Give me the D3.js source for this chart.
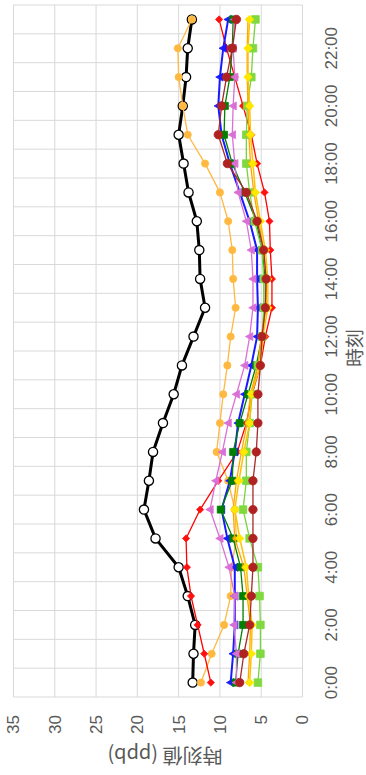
<!DOCTYPE html>
<html><head><meta charset="utf-8">
<script src="https://cdn.jsdelivr.net/npm/d3@7/dist/d3.min.js"></script>
<style>body{margin:0;background:#fff;}svg{display:block;}</style>
</head><body>
<script>
const hours = ["0:00","1:00","2:00","3:00","4:00","5:00","6:00","7:00","8:00","9:00","10:00","11:00","12:00","13:00","14:00","15:00","16:00","17:00","18:00","19:00","20:00","21:00","22:00","23:00"];
const valueTicks = [0,5,10,15,20,25,30,35];
const sBlack    = [13.3,13.2,13.0,13.9,15.0,17.8,19.2,18.6,18.1,16.9,15.6,14.6,13.2,11.8,12.4,12.5,12.8,13.8,14.4,15.0,14.5,14.1,13.9,13.4];
const sLtOrange = [12.3,11.0,9.5,8.7,8.6,8.0,8.2,9.0,10.4,10.0,9.6,9.1,8.7,8.1,8.4,8.5,9.0,10.0,11.8,13.9,14.5,15.0,15.1,13.4];
const sRed      = [11.1,11.9,12.7,13.5,14.0,14.1,12.4,10.2,7.9,6.8,6.1,5.1,4.5,3.7,3.7,3.9,4.0,4.6,5.5,6.2,7.2,8.2,9.2,10.1];
const sBlue     = [8.7,8.4,8.2,8.2,8.2,9.1,9.8,8.8,8.2,7.8,7.0,6.2,5.5,5.4,5.5,5.5,6.4,7.6,8.8,9.8,10.2,10.0,9.6,9.0];
const sDkGreen  = [8.1,7.8,7.2,7.2,7.5,8.4,9.9,8.5,8.4,7.6,6.6,5.6,4.9,4.5,4.5,4.9,5.6,7.0,8.5,9.5,9.4,8.8,8.5,8.4];
const sOrchid   = [8.0,8.0,8.3,8.2,8.9,10.0,11.2,10.5,9.7,9.0,8.0,7.0,6.4,6.0,6.0,6.2,6.8,7.8,8.2,8.5,8.4,8.2,8.4,8.2];
const sLtGreen  = [5.4,5.1,5.1,5.2,5.4,6.4,7.2,6.8,6.8,6.4,6.1,5.4,4.9,4.7,4.7,4.9,5.8,6.4,6.8,6.8,6.7,6.2,6.0,5.7];
const sOrange   = [6.6,6.4,6.3,6.7,7.1,8.2,8.4,8.0,7.4,6.7,6.3,5.4,5.0,4.4,4.4,4.7,5.3,5.9,6.3,6.5,6.6,6.7,6.7,6.6];
const sYellow   = [6.4,6.2,6.1,6.5,6.8,7.6,8.2,7.7,7.1,6.4,6.2,5.1,4.8,4.2,4.2,4.5,5.1,5.7,6.0,6.3,6.4,6.6,6.6,6.4];
const sBrown    = [7.6,7.1,6.4,6.2,6.0,6.0,6.0,6.0,5.6,5.4,5.4,5.1,4.9,4.5,4.4,4.7,5.5,6.8,9.1,10.2,9.8,9.2,8.5,8.0];

const series = [
  {v:sBlack,    line:"#000000", lw:3,   mk:"circle",  sz:4.6, fill:"#ffffff", stroke:"#000000"},
  {v:sLtOrange, line:"#FFB940", lw:1.3, mk:"circle",  sz:3.6, fill:"#FFB940", stroke:"#FFB940"},
  {v:sRed,      line:"#FF0000", lw:1.3, mk:"diamond", sz:3.6, fill:"#FF1010", stroke:"#FF1010"},
  {v:sBlue,     line:"#1A1AFF", lw:2,   mk:"triangle",sz:4.2, fill:"#1A1AFF", stroke:"#1A1AFF"},
  {v:sDkGreen,  line:"#008000", lw:1.3, mk:"square",  sz:3.5, fill:"#008000", stroke:"#008000"},
  {v:sOrchid,   line:"#DA70D6", lw:1.3, mk:"triangle",sz:4.2, fill:"#DA70D6", stroke:"#DA70D6"},
  {v:sLtGreen,  line:"#77D43C", lw:1.3, mk:"square",  sz:3.8, fill:"#7FD93F", stroke:"#7FD93F"},
  {v:sOrange,   line:"#FFA500", lw:1.3, mk:"circle",  sz:2.0, fill:"#FFA500", stroke:"#FFA500"},
  {v:sYellow,   line:"#FFC000", lw:1.5, mk:"diamond", sz:4.2, fill:"#FFE800", stroke:"#FFE800"},
  {v:sBrown,    line:"#A52A2A", lw:1.3, mk:"circle",  sz:4.2, fill:"#B02222", stroke:"#B02222"}
];

function markerPath(type, s){
  if(type==="circle") return `M${s},0A${s},${s} 0 1,1 ${-s},0A${s},${s} 0 1,1 ${s},0Z`;
  if(type==="square") return `M${-s},${-s}H${s}V${s}H${-s}Z`;
  if(type==="diamond") return `M0,${-s}L${s},0L0,${s}L${-s},0Z`;
  if(type==="triangle") return `M0,${-s}L${s*0.95},${s*0.75}L${-s*0.95},${s*0.75}Z`;
}

const W = 366, H = 775;
const svg = d3.select("body").append("svg").attr("width",W).attr("height",H);
// chart is drawn in a 775x366 frame and rotated -90deg
const g = svg.append("g").attr("transform",`translate(0,${H}) rotate(-90)`);

const x = d3.scaleBand().domain(hours).range([78,770]).paddingInner(0).paddingOuter(0);
const y = d3.scaleLinear().domain([0,35]).range([302.5,13.5]);
const grid = "#d9d9d9";
const txt = "#595959";

// value gridlines
g.append("g").selectAll("line").data(valueTicks).join("line")
  .attr("x1",78).attr("x2",770).attr("y1",d=>y(d)).attr("y2",d=>y(d))
  .attr("stroke",grid).attr("stroke-width",1);
// category gridlines (between categories)
const bounds = hours.map(h=>x(h)).concat([x(hours[hours.length-1])+x.bandwidth()]);
g.append("g").selectAll("line").data(bounds).join("line")
  .attr("x1",d=>d).attr("x2",d=>d).attr("y1",y(35)).attr("y2",y(0))
  .attr("stroke",grid).attr("stroke-width",1);

// category labels
g.append("g").selectAll("text").data(hours.filter((h,i)=>i%2===0)).join("text")
  .attr("x",d=>x(d)+x.bandwidth()/2).attr("y",337)
  .attr("text-anchor","middle").attr("fill",txt)
  .style("font-family","'Liberation Sans',Arial,sans-serif").style("font-size","17px")
  .text(d=>d);
// value labels
g.append("g").selectAll("text").data(valueTicks).join("text")
  .attr("x",60).attr("y",d=>y(d)).attr("dy","0.35em")
  .attr("text-anchor","end").attr("fill",txt)
  .style("font-family","'Liberation Sans',Arial,sans-serif").style("font-size","17px")
  .text(d=>d);

// axis titles
g.append("text").attr("transform",`translate(20,165) rotate(-90)`)
  .attr("text-anchor","middle").attr("dy","0.35em").attr("fill",txt)
  .style("font-family","'Noto Sans CJK JP','Noto Sans',sans-serif").style("font-size","20px")
  .text("時刻値 (ppb)");
g.append("text").attr("x",427).attr("y",362)
  .attr("text-anchor","middle").attr("fill",txt)
  .style("font-family","'Noto Sans CJK JP','Noto Sans',sans-serif").style("font-size","19px")
  .text("時刻");

const line = d3.line().x((d,i)=>x(hours[i])+x.bandwidth()/2).y(d=>y(d));
series.forEach(s=>{
  const sg = g.append("g");
  sg.append("path").datum(s.v).attr("d",line).attr("fill","none")
    .attr("stroke",s.line).attr("stroke-width",s.lw).attr("stroke-linejoin","round");
  sg.selectAll("path.m").data(s.v).join("path").attr("class","m")
    .attr("transform",(d,i)=>`translate(${x(hours[i])+x.bandwidth()/2},${y(d)})`)
    .attr("d",markerPath(s.mk,s.sz))
    .attr("fill",s.fill).attr("stroke",s.stroke).attr("stroke-width",s.mk==="circle"&&s.fill==="#ffffff"?1.3:0.8);
});
</script>
</body></html>
